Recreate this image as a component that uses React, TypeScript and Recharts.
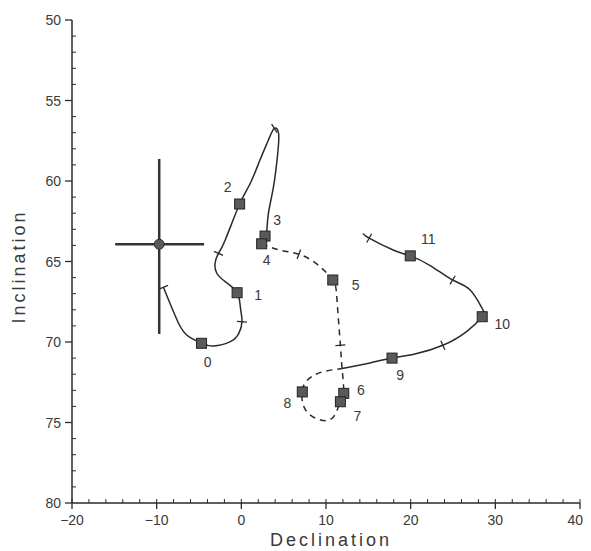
import { ComposedChart, XAxis, YAxis, Line, Scatter, ErrorBar, Label } from "recharts"

// site means (numbered squares)
const siteLabels = ["0", "1", "2", "3", "4", "5", "6", "7", "8", "9", "10", "11"]
const siteDec = [-4.7, -0.5, -0.2, 2.8, 2.4, 10.8, 12.1, 11.7, 7.2, 17.8, 28.45, 19.95]
const siteInc = [70.08, 66.94, 61.43, 63.42, 63.9, 66.15, 73.19, 73.71, 73.1, 71.0, 68.43, 64.65]

// traced path, first solid part (start -> 0 -> 1 -> 2 -> apex -> 3)
const pathADec = [-9.2, -7.4, -6.2, -4.7, -3.3, -1.3, -0.3, 0.08, -0.1, -0.5, -1.9, -2.9, -3.1, -2.7, -1.9, -0.2, 1.06, 2.2, 3.2, 3.9, 4.4, 4.3, 3.8, 3.2, 3.0, 2.8]
const pathAInc = [66.6, 68.85, 69.67, 70.08, 70.25, 69.98, 69.46, 68.74, 67.9, 66.94, 66.25, 65.73, 65.11, 64.49, 63.66, 61.43, 60.14, 58.7, 57.45, 56.73, 57.04, 58.28, 60.35, 62.0, 63.15, 63.42]

// dashed part (4 -> 5 -> 6 -> 7 -> loop -> 8 -> crossing)
const pathBDec = [2.4, 4.6, 6.8, 8.9, 10.8, 11.3, 11.7, 11.9, 12.1, 11.7, 10.9, 9.33, 7.56, 7.17, 7.76, 9.3, 11.9]
const pathBInc = [63.9, 64.3, 64.55, 65.15, 66.15, 67.4, 70.2, 71.65, 73.19, 73.71, 74.64, 74.84, 74.2, 73.1, 72.4, 71.9, 71.65]

// second solid part (crossing -> 9 -> 10 -> 11 -> end)
const pathCDec = [11.9, 15.2, 17.8, 20.5, 23.8, 26.6, 28.45, 28.43, 27.0, 24.95, 22.3, 19.95, 18.0, 15.1, 14.4]
const pathCInc = [71.65, 71.3, 71.0, 70.75, 70.2, 69.35, 68.43, 67.9, 66.75, 66.15, 65.25, 64.65, 64.3, 63.55, 63.25]

// small cross marks along the path
const markDec = [-9.2, 0.08, -2.7, 3.9, 6.8, 11.7, 23.8, 24.95, 15.1]
const markInc = [66.6, 68.74, 64.49, 56.73, 64.55, 70.2, 70.2, 66.15, 63.55]

// overall mean with error bars
const meanDec = [-9.7]
const meanInc = [63.93]
const meanDecErr = [[5.2, 5.3]]
const meanIncErr = [[5.3, 5.57]]

const xMajor = [-20, -10, 0, 10, 20, 30, 40]
const yMajor = [50, 55, 60, 65, 70, 75, 80]

const zip = (d: number[], i: number[]) => d.map((v, k) => ({ dec: v, inc: i[k] }))
const sites = siteLabels.map((l, k) => ({ label: l, dec: siteDec[k], inc: siteInc[k] }))
const pathA = zip(pathADec, pathAInc)
const pathB = zip(pathBDec, pathBInc)
const pathC = zip(pathCDec, pathCInc)
const marks = zip(markDec, markInc)
const mean = meanDec.map((v, k) => ({ dec: v, inc: meanInc[k], ex: meanDecErr[k], ey: meanIncErr[k] }))

const xTicks: number[] = []
for (let v = -20; v <= 40; v += 2) xTicks.push(v)
const yTicks: number[] = []
for (let v = 50; v <= 80; v += 1) yTicks.push(v)

const W = 575
const H = 543
const M = { top: 12, right: 3, left: 24, bottom: 8 }
const Y_W = 40
const X_H = 40
const plotW = W - M.left - M.right - Y_W
const plotH = H - M.top - M.bottom - X_H
const pxX = plotW / 60
const pxY = plotH / 30

const INK = "#2a2a2a"
const TXT = "#3a3a3a"
const FONT = "'Liberation Sans', Arial, sans-serif"

// label placement around each square, in pixels
const labelOffset: Record<string, [number, number]> = {
  "0": [6, 19], "1": [21, 2], "2": [-12, -17], "3": [12, -16], "4": [5, 16], "5": [23, 5],
  "6": [17, -3], "7": [17, 14], "8": [-15, 11], "9": [8, 17], "10": [20, 7], "11": [18, -17],
}

const fmt = (v: number) => (v < 0 ? "\u2212" + Math.abs(v) : String(v))

function XTick(props: any) {
  const { x, y, payload } = props
  const major = xMajor.includes(payload.value)
  // the last label sits at the right edge, keep it inside the drawing
  const last = payload.value === xMajor[xMajor.length - 1]
  return (
    <g>
      {major ? (
        <>
          <line x1={x} x2={x} y1={y} y2={y + 6} stroke={INK} strokeWidth={1.3} />
          <line x1={x} x2={x} y1={y} y2={y - 4} stroke={INK} strokeWidth={1} />
          <text
            x={last ? x + 3 : x}
            y={y + 22}
            textAnchor={last ? "end" : "middle"}
            fontSize={14}
            fill={TXT}
            fontFamily={FONT}
          >
            {fmt(payload.value)}
          </text>
        </>
      ) : (
        <line x1={x} x2={x} y1={y} y2={y - 4} stroke={INK} strokeWidth={1} />
      )}
    </g>
  )
}

function YTick(props: any) {
  const { x, y, payload } = props
  const major = yMajor.includes(payload.value)
  return (
    <g>
      {major ? (
        <>
          <line x1={x} x2={x - 7} y1={y} y2={y} stroke={INK} strokeWidth={1.3} />
          <text x={x - 11} y={y + 5} textAnchor="end" fontSize={14} fill={TXT} fontFamily={FONT}>
            {payload.value}
          </text>
        </>
      ) : (
        <line x1={x} x2={x + 4} y1={y} y2={y} stroke={INK} strokeWidth={1} />
      )}
    </g>
  )
}

function SiteSquare(props: any) {
  const { cx, cy, payload } = props
  const s = 10
  const [dx, dy] = labelOffset[payload.label] || [15, 0]
  return (
    <g>
      <rect x={cx - s / 2} y={cy - s / 2} width={s} height={s} fill="#5a5a5a" stroke="#222" strokeWidth={1} />
      <text x={cx + dx} y={cy + dy + 5} textAnchor="middle" fontSize={14} fill={TXT} fontFamily={FONT}>
        {payload.label}
      </text>
    </g>
  )
}

const allPaths = [pathA, pathB, pathC]

// draw a short stroke across the path at the mark, perpendicular to the local direction
function CrossMark(props: any) {
  const { cx, cy, payload } = props
  let best = { d: Infinity, p: pathA, k: 0 }
  for (const p of allPaths) {
    p.forEach((pt, k) => {
      const d = Math.hypot((pt.dec - payload.dec) * pxX, (pt.inc - payload.inc) * pxY)
      if (d < best.d) best = { d, p, k }
    })
  }
  const a = best.p[Math.max(0, best.k - 1)]
  const b = best.p[Math.min(best.p.length - 1, best.k + 1)]
  let tx = (b.dec - a.dec) * pxX
  let ty = (b.inc - a.inc) * pxY
  const n = Math.hypot(tx, ty) || 1
  tx /= n
  ty /= n
  const L = 5
  return (
    <line x1={cx - ty * L} y1={cy + tx * L} x2={cx + ty * L} y2={cy - tx * L} stroke={INK} strokeWidth={1.3} />
  )
}

function MeanDot(props: any) {
  const { cx, cy } = props
  return <circle cx={cx} cy={cy} r={5} fill="#5a5a5a" stroke="#333" strokeWidth={1} />
}

function App() {
  return (
    <ComposedChart width={W} height={H} margin={M}>
      <XAxis
        type="number"
        dataKey="dec"
        domain={[-20, 40]}
        ticks={xTicks}
        interval={0}
        tickSize={0}
        tickMargin={0}
        tickLine={false}
        tick={<XTick />}
        height={X_H}
        stroke={INK}
        strokeWidth={1.5}
        allowDataOverflow
      >
        <Label
          content={({ viewBox }: any) => (
            <text
              x={viewBox.x + viewBox.width / 2 + 5}
              y={viewBox.y + 43}
              textAnchor="middle"
              fontSize={18}
              letterSpacing={3}
              fill={TXT}
              fontFamily={FONT}
            >
              Declination
            </text>
          )}
        />
      </XAxis>
      <YAxis
        type="number"
        dataKey="inc"
        domain={[50, 80]}
        reversed
        ticks={yTicks}
        interval={0}
        tickSize={0}
        tickMargin={0}
        tickLine={false}
        tick={<YTick />}
        width={Y_W}
        stroke={INK}
        strokeWidth={1.5}
        allowDataOverflow
      >
        <Label
          content={({ viewBox }: any) => {
            const cx = 17
            const cy = viewBox.y + viewBox.height / 2 + 5
            return (
              <text
                x={cx}
                y={cy}
                transform={`rotate(-90 ${cx} ${cy})`}
                textAnchor="middle"
                fontSize={18}
                letterSpacing={3}
                fill={TXT}
                fontFamily={FONT}
              >
                Inclination
              </text>
            )
          }}
        />
      </YAxis>
      <Line data={pathA} dataKey="inc" type="natural" stroke={INK} strokeWidth={1.5} dot={false} isAnimationActive={false} />
      <Line
        data={pathB}
        dataKey="inc"
        type="natural"
        stroke={INK}
        strokeWidth={1.5}
        strokeDasharray="6 5"
        dot={false}
        isAnimationActive={false}
      />
      <Line data={pathC} dataKey="inc" type="natural" stroke={INK} strokeWidth={1.5} dot={false} isAnimationActive={false} />
      <Scatter data={marks} dataKey="inc" shape={<CrossMark />} isAnimationActive={false} />
      <Scatter data={mean} dataKey="inc" shape={<MeanDot />} isAnimationActive={false}>
        <ErrorBar dataKey="ex" direction="x" width={0} stroke="#333" strokeWidth={2.5} />
        <ErrorBar dataKey="ey" direction="y" width={0} stroke="#333" strokeWidth={2.5} />
      </Scatter>
      <Scatter data={sites} dataKey="inc" shape={<SiteSquare />} isAnimationActive={false} />
    </ComposedChart>
  )
}

export default App
